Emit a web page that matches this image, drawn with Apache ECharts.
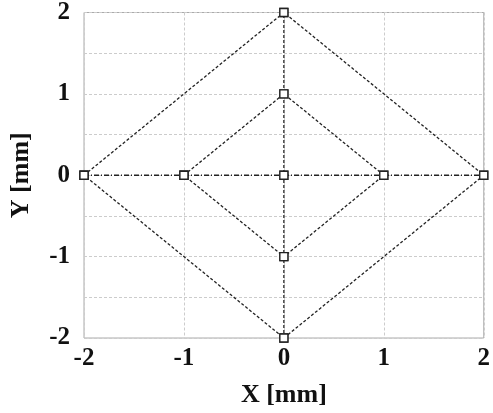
<!DOCTYPE html>
<html>
<head>
<meta charset="utf-8">
<script src="https://cdn.jsdelivr.net/npm/echarts@6/dist/echarts.min.js"></script>
<style>
  html, body { margin: 0; padding: 0; background: #fff; }
  #chart { width: 493px; height: 413px; }
</style>
</head>
<body>
<div id="chart"></div>
<script>
// outer and inner diamond, plus the two centre lines
var outerX = [-2, 0, 2, 0, -2];
var outerY = [0, 2, 0, -2, 0];
var innerX = [-1, 0, 1, 0, -1];
var innerY = [0, 1, 0, -1, 0];
var horizX = [-2, -1, 0, 1, 2];
var horizY = [0, 0, 0, 0, 0];
var vertX = [0, 0, 0, 0, 0];
var vertY = [-2, -1, 0, 1, 2];

function pairs(xs, ys) {
  var out = [];
  for (var i = 0; i < xs.length; i++) out.push([xs[i], ys[i]]);
  return out;
}

var chart = echarts.init(document.getElementById('chart'));
var font = '"Liberation Serif", "Times New Roman", serif';

function lineSeries(data, dash) {
  return {
    type: 'line',
    data: data,
    symbol: 'rect',
    symbolSize: 8,
    showAllSymbol: true,
    itemStyle: { color: '#fff', borderColor: '#222', borderWidth: 1.3 },
    lineStyle: { color: '#222', width: 1.3, type: dash },
    animation: false,
    z: 3
  };
}

chart.setOption({
  backgroundColor: '#fff',
  grid: {
    left: 84, right: 3, top: 11, bottom: 68,
    show: true, borderColor: '#aaa', borderWidth: 1
  },
  xAxis: {
    type: 'value', min: -2, max: 2, interval: 1,
    name: 'X [mm]', nameLocation: 'middle', nameGap: 44,
    nameTextStyle: { fontFamily: font, fontWeight: 'bold', fontSize: 26, color: '#111' },
    axisLine: { show: false },
    axisTick: { show: false },
    axisLabel: { fontFamily: font, fontWeight: 'bold', fontSize: 25, color: '#111', margin: 8 },
    splitLine: { lineStyle: { color: '#ccc', type: [3, 2] } }
  },
  yAxis: {
    type: 'value', min: -2, max: 2, interval: 0.5,
    name: 'Y [mm]', nameLocation: 'middle', nameGap: 50,
    nameTextStyle: { fontFamily: font, fontWeight: 'bold', fontSize: 26, color: '#111' },
    axisLine: { show: false },
    axisTick: { show: false },
    axisLabel: {
      fontFamily: font, fontWeight: 'bold', fontSize: 25, color: '#111', margin: 14,
      formatter: function (v) { return Number.isInteger(v) ? String(v) : ''; }
    },
    splitLine: { lineStyle: { color: '#ccc', type: [3, 2] } }
  },
  series: [
    lineSeries(pairs(outerX, outerY), [3, 2]),
    lineSeries(pairs(innerX, innerY), [3, 2]),
    lineSeries(pairs(horizX, horizY), [5, 2, 1, 2]),
    lineSeries(pairs(vertX, vertY), [3, 2])
  ]
});
</script>
</body>
</html>
